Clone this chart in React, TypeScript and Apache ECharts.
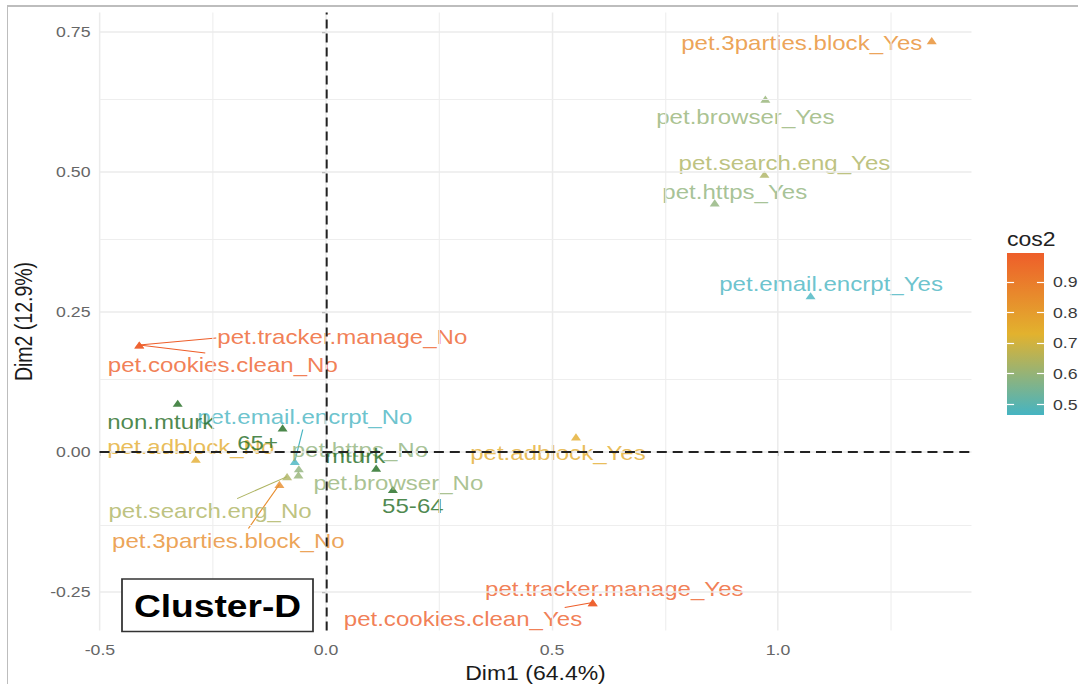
import React, { useEffect, useRef } from 'react';
import * as echarts from 'echarts';

// MCA variable categories (active) with their coordinates and cos2 quality
const activeNames = [
  'pet.3parties.block_Yes', 'pet.browser_Yes', 'pet.search.eng_Yes', 'pet.https_Yes',
  'pet.email.encrpt_Yes', 'pet.tracker.manage_No', 'pet.cookies.clean_No', 'pet.adblock_No',
  'pet.email.encrpt_No', 'pet.https_No', 'pet.search.eng_No', 'pet.browser_No',
  'pet.3parties.block_No', 'pet.adblock_Yes', 'pet.tracker.manage_Yes', 'pet.cookies.clean_Yes',
];
const activeDim1 = [1.340, 0.972, 0.970, 0.860, 1.072, -0.413, -0.413, -0.288, -0.069, -0.060, -0.086, -0.061, -0.103, 0.553, 0.590, 0.590];
const activeDim2 = [0.7345, 0.630, 0.496, 0.445, 0.279, 0.191, 0.191, -0.013, -0.017, -0.030, -0.044, -0.041, -0.058, 0.027, -0.269, -0.269];
const activeCos2 = [0.85, 0.60, 0.64, 0.59, 0.465, 0.994, 0.994, 0.75, 0.465, 0.59, 0.64, 0.60, 0.85, 0.75, 0.994, 0.994];

// Supplementary qualitative categories
const supNames = ['non.mturk', '65+', 'mturk', '55-64'];
const supDim1 = [-0.328, -0.096, 0.111, 0.148];
const supDim2 = [0.087, 0.043, -0.029, -0.067];

// Axis ticks and grid
const xTicks = [-0.5, 0, 0.5, 1.0];
const xMinor = [-0.25, 0.25, 0.75, 1.25];
const yTicks = [-0.25, 0, 0.25, 0.5, 0.75];
const yMinor = [-0.125, 0.125, 0.375, 0.625];
const xRange = [-0.501, 1.428];
const yRange = [-0.319, 0.785];

// Colour bar
const cos2Ticks = [0.5, 0.6, 0.7, 0.8, 0.9];
const cos2Range = [0.464, 0.995];
const gradientColors = ['#45B4C2', '#E2B22E', '#EE5E2A'];
const supColor = '#1E6A1E';

// Label displacement from each point (output pixels)
const activeLabelShift: [number, number][] = [
  [-130, 2], [-20, 18], [20, -11], [20, -11], [20.5, -12], [203, -8], [83.5, 20], [-5, -12.6],
  [10, -44], [61, -19], [-77, 35], [100, 8], [-51, 57], [-18, 16.6], [21.6, -13.4], [-129.7, 16.6],
];
// End of the leader segment at the label side, relative to the point (output pixels); null: none
const activeLeaderEnd: ([number, number] | null)[] = [
  null, null, null, null, null, [77, -7], [66, 8], null,
  [8, -32], null, [-50, 22], null, [-31, 44], null, null, [-28, 5],
];
const supLabelShift: [number, number][] = [[-17, 19], [-25, 15], [-21, -12], [20, 17]];

const STRETCH = 1.1794;
const W = 914;
const H = 684;
const FONT = "'Liberation Sans', Arial, Helvetica, sans-serif";

const cosColor = (v: number) =>
  echarts.color.lerp((v - cos2Range[0]) / (cos2Range[1] - cos2Range[0]), gradientColors) as string;

function buildOption(): echarts.EChartsOption {
  const S = STRETCH;
  const gridLines: any[] = [
    ...xTicks.map((v) => ({ xAxis: v, lineStyle: { color: '#ebebeb', width: 1.5 / S, type: 'solid' } })),
    ...xMinor.map((v) => ({ xAxis: v, lineStyle: { color: '#eeeeee', width: 1.1 / S, type: 'solid' } })),
    ...yTicks.map((v) => ({ yAxis: v, lineStyle: { color: '#ebebeb', width: 1.6, type: 'solid' } })),
    ...yMinor.map((v) => ({ yAxis: v, lineStyle: { color: '#eeeeee', width: 1.2, type: 'solid' } })),
  ];

  const activeData = activeNames.map((name, i) => {
    const c = cosColor(activeCos2[i]);
    return {
      name,
      value: [activeDim1[i], activeDim2[i], activeCos2[i]],
      itemStyle: { color: c },
      label: { color: c },
    };
  });

  const leaderData = activeNames
    .map((_, i) => i)
    .filter((i) => activeLeaderEnd[i] !== null)
    .map((i) => [activeDim1[i], activeDim2[i], activeLeaderEnd[i]![0] / S, activeLeaderEnd[i]![1], activeCos2[i]]);

  const supData = supNames.map((name, i) => ({ name, value: [supDim1[i], supDim2[i]] }));

  return {
    animation: false,
    backgroundColor: '#ffffff',
    textStyle: { fontFamily: FONT },
    grid: [
      { left: 99.5 / S, top: 12.4, width: 872 / S, height: 618.2, containLabel: false, outerBoundsMode: 'none' } as any,
      { left: 1007 / S, top: 253, width: 37 / S, height: 162, containLabel: false, outerBoundsMode: 'none' } as any,
    ],
    xAxis: [
      {
        gridIndex: 0,
        type: 'value',
        min: xRange[0],
        max: xRange[1],
        splitLine: { show: false },
        axisLine: { show: false },
        axisTick: { show: true, length: 4, customValues: xTicks, lineStyle: { color: '#333', width: 1.2 / S } },
        axisLabel: {
          customValues: xTicks,
          formatter: (v: number) => v.toFixed(1),
          color: '#666',
          fontSize: 15,
          margin: 11,
          fontFamily: FONT,
        },
        name: 'Dim1 (64.4%)',
        nameLocation: 'middle',
        nameGap: 33,
        nameTextStyle: { fontSize: 19.5, color: '#1a1a1a', fontFamily: FONT },
      },
      { gridIndex: 1, type: 'value', min: 0, max: 1, show: false },
    ],
    yAxis: [
      {
        gridIndex: 0,
        type: 'value',
        min: yRange[0],
        max: yRange[1],
        splitLine: { show: false },
        axisLine: { show: false },
        axisTick: { show: true, length: 4 / S, customValues: yTicks, lineStyle: { color: '#333', width: 1.2 } },
        axisLabel: {
          customValues: yTicks,
          formatter: (v: number) => v.toFixed(2),
          color: '#666',
          fontSize: 15,
          margin: 9 / S,
          fontFamily: FONT,
        },
        name: 'Dim2 (12.9%)',
        nameLocation: 'middle',
        nameGap: 54,
        nameTextStyle: { fontSize: 19.5, color: '#1a1a1a', fontFamily: FONT },
      },
      {
        gridIndex: 1,
        type: 'value',
        position: 'left',
        min: cos2Range[0],
        max: cos2Range[1],
        z: 6,
        splitLine: { show: false },
        axisLine: { show: false },
        axisLabel: { show: false },
        axisTick: { show: true, inside: true, length: 6, customValues: cos2Ticks, lineStyle: { color: '#ffffff', width: 1.2 } },
      },
      {
        gridIndex: 1,
        type: 'value',
        position: 'right',
        min: cos2Range[0],
        max: cos2Range[1],
        z: 6,
        splitLine: { show: false },
        axisLine: { show: false },
        axisTick: { show: true, inside: true, length: 6, customValues: cos2Ticks, lineStyle: { color: '#ffffff', width: 1.2 } },
        axisLabel: {
          customValues: cos2Ticks,
          formatter: (v: number) => v.toFixed(1),
          color: '#3a3a3a',
          fontSize: 15,
          margin: 7.6,
          fontFamily: FONT,
        },
      },
    ],
    graphic: [
      {
        type: 'rect',
        shape: { x: 122 / S, y: 579, width: 191 / S, height: 52.5 },
        style: { fill: '#ffffff', stroke: '#333333', lineWidth: 1.5 },
        z: 20,
      },
      {
        type: 'text',
        x: 217.5 / S,
        y: 606,
        style: {
          text: 'Cluster-D',
          fontFamily: FONT,
          fontWeight: 'bold',
          fontSize: 31.5,
          fill: '#000000',
          textAlign: 'center',
          textVerticalAlign: 'middle',
        } as any,
        z: 21,
      },
      {
        type: 'text',
        x: 1007 / S,
        y: 240,
        style: {
          text: 'cos2',
          fontFamily: FONT,
          fontSize: 19.5,
          fill: '#222222',
          textVerticalAlign: 'middle',
        } as any,
        z: 21,
      },
    ],
    series: [
      {
        // background grid lines
        type: 'scatter',
        xAxisIndex: 0,
        yAxisIndex: 0,
        data: [],
        silent: true,
        z: 0,
        markLine: {
          silent: true,
          symbol: ['none', 'none'],
          label: { show: false },
          data: gridLines,
        },
      },
      {
        // reference lines through the origin
        type: 'scatter',
        xAxisIndex: 0,
        yAxisIndex: 0,
        data: [],
        silent: true,
        z: 1,
        markLine: {
          silent: true,
          symbol: ['none', 'none'],
          label: { show: false },
          data: [
            { xAxis: 0, lineStyle: { color: '#222', width: 2 / S, type: [9, 5] } },
            { yAxis: 0, lineStyle: { color: '#222', width: 2, type: [8.5, 5] } },
          ],
        },
      },
      {
        // leader segments joining displaced labels to their points
        type: 'custom',
        xAxisIndex: 0,
        yAxisIndex: 0,
        silent: true,
        z: 2,
        data: leaderData,
        renderItem: (_params: any, api: any) => {
          const p = api.coord([api.value(0), api.value(1)]);
          return {
            type: 'line',
            shape: { x1: p[0], y1: p[1], x2: p[0] + api.value(2), y2: p[1] + api.value(3) },
            style: { stroke: cosColor(api.value(4)), lineWidth: 1 },
          };
        },
      },
      {
        type: 'scatter',
        name: 'active',
        xAxisIndex: 0,
        yAxisIndex: 0,
        symbol: 'triangle',
        symbolSize: [8.5, 7.2],
        z: 3,
        data: activeData as any,
        label: {
          show: true,
          position: 'inside',
          formatter: '{b}',
          fontSize: 20.4,
          fontFamily: FONT,
          textBorderWidth: 0,
        },
        labelLine: { show: false },
        labelLayout: (p: any) => ({
          dx: activeLabelShift[p.dataIndex][0] / S,
          dy: activeLabelShift[p.dataIndex][1],
          hideOverlap: false,
        }),
      },
      {
        type: 'scatter',
        name: 'supplementary',
        xAxisIndex: 0,
        yAxisIndex: 0,
        symbol: 'triangle',
        symbolSize: [8.5, 7.2],
        z: 3,
        itemStyle: { color: supColor },
        data: supData as any,
        label: {
          show: true,
          position: 'inside',
          formatter: '{b}',
          fontSize: 20.4,
          fontFamily: FONT,
          color: supColor,
          textBorderWidth: 0,
        },
        labelLayout: (p: any) => ({
          dx: supLabelShift[p.dataIndex][0] / S,
          dy: supLabelShift[p.dataIndex][1],
          hideOverlap: false,
        }),
      },
      {
        // colour bar for cos2
        type: 'custom',
        xAxisIndex: 1,
        yAxisIndex: 1,
        silent: true,
        z: 2,
        data: [[0, cos2Range[0], 1, cos2Range[1]]],
        renderItem: (_params: any, api: any) => {
          const p0 = api.coord([api.value(0), api.value(3)]);
          const p1 = api.coord([api.value(2), api.value(1)]);
          return {
            type: 'rect',
            shape: { x: p0[0], y: p0[1], width: p1[0] - p0[0], height: p1[1] - p0[1] },
            style: {
              fill: new echarts.graphic.LinearGradient(0, 0, 0, 1, [
                { offset: 0, color: gradientColors[2] },
                { offset: 0.5, color: gradientColors[1] },
                { offset: 1, color: gradientColors[0] },
              ]),
            },
          };
        },
      },
    ],
  } as echarts.EChartsOption;
}

export default function App() {
  const ref = useRef<HTMLDivElement>(null);

  useEffect(() => {
    if (!ref.current) return;
    const chart = echarts.init(ref.current, null, { renderer: 'svg' });
    chart.setOption(buildOption());
    return () => chart.dispose();
  }, []);

  return (
    <div
      style={{
        position: 'absolute',
        left: 0,
        top: 0,
        width: 1078,
        height: 684,
        overflow: 'hidden',
        background: '#ffffff',
      }}
    >
      <div
        ref={ref}
        style={{ width: W, height: H, transform: `scaleX(${STRETCH})`, transformOrigin: '0 0' }}
      />
      <div style={{ position: 'absolute', left: 6.5, top: 5, width: 1.5, height: 679, background: '#bdbdbd' }} />
      <div style={{ position: 'absolute', left: 6.5, top: 5, width: 1071.5, height: 1.5, background: '#bdbdbd' }} />
    </div>
  );
}
